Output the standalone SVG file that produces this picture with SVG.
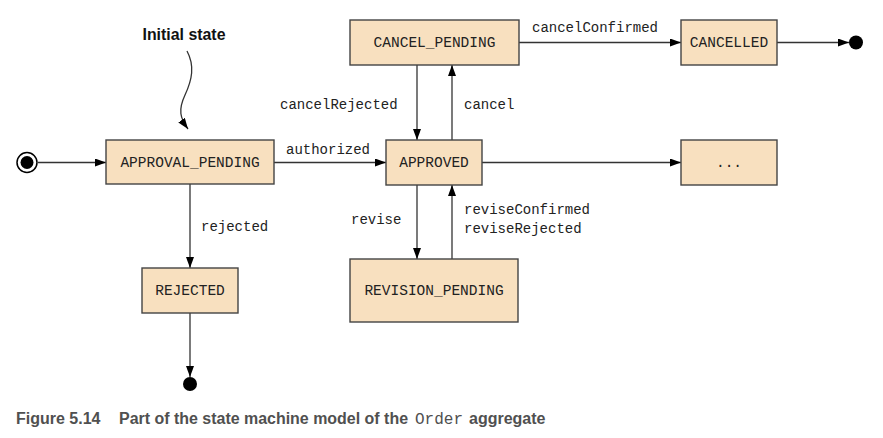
<svg xmlns="http://www.w3.org/2000/svg" width="883" height="438" viewBox="0 0 883 438">
  <defs>
    <style>
      .box { fill: #F8E0BF; stroke: #444; stroke-width: 1.4; }
      .lbl { font-family: "Liberation Mono", "Courier New", monospace; font-size: 14px; fill: #222; }
      .blbl { font-family: "Liberation Mono", "Courier New", monospace; font-size: 14.5px; fill: #222; text-anchor: middle; }
      .conn { stroke: #333; stroke-width: 1.3; fill: none; marker-end: url(#arr); }
      .cap { font-family: "Liberation Sans", Arial, sans-serif; font-weight: bold; font-size: 16px; fill: #505050; }
    </style>
    <marker id="arr" markerUnits="userSpaceOnUse" markerWidth="12" markerHeight="10" refX="11" refY="4" orient="auto">
      <path d="M0,0 L11,4 L0,8 Z" fill="#000"/>
    </marker>
  </defs>
  <rect width="883" height="438" fill="#fff"/>

  <g id="connectors">
    <line class="conn" x1="38" y1="162.5" x2="106" y2="162.5"/>
    <line class="conn" x1="274" y1="162.5" x2="386" y2="162.5"/>
    <line class="conn" x1="482" y1="162.5" x2="681" y2="162.5"/>
    <line class="conn" x1="417" y1="65" x2="417" y2="140"/>
    <line class="conn" x1="452" y1="140" x2="452" y2="65"/>
    <line class="conn" x1="519" y1="42.5" x2="681" y2="42.5"/>
    <line class="conn" x1="777" y1="42.5" x2="849" y2="42.5"/>
    <line class="conn" x1="190" y1="184" x2="190" y2="268"/>
    <line class="conn" x1="190" y1="313" x2="190" y2="377"/>
    <line class="conn" x1="417" y1="185" x2="417" y2="259"/>
    <line class="conn" x1="452" y1="259" x2="452" y2="185"/>
    <path class="conn" d="M187,51 C195,66 192,80 185,95 C178,110 180,118 188,129"/>
    <text class="lbl" x="286" y="154">authorized</text>
    <text class="lbl" x="280" y="109">cancelRejected</text>
    <text class="lbl" x="464" y="109">cancel</text>
    <text class="lbl" x="532" y="32">cancelConfirmed</text>
    <text class="lbl" x="201" y="231">rejected</text>
    <text class="lbl" x="351" y="224">revise</text>
    <text class="lbl" x="464" y="214">reviseConfirmed</text>
    <text class="lbl" x="464" y="233">reviseRejected</text>
  </g>

  <g id="initial">
    <circle cx="27" cy="162.5" r="10" fill="#fff" stroke="#000" stroke-width="1.5"/>
    <circle cx="27" cy="162.5" r="6.5" fill="#000"/>
  </g>
  <g id="initial-note">
    <text x="184" y="40" text-anchor="middle" font-family="'Liberation Sans', Arial, sans-serif" font-weight="bold" font-size="17px" textLength="83" lengthAdjust="spacingAndGlyphs" fill="#111">Initial state</text>
  </g>
  <g id="approval-pending">
    <rect class="box" x="106" y="140" width="168" height="44"/>
    <text class="blbl" x="190" y="167">APPROVAL_PENDING</text>
  </g>
  <g id="approved">
    <rect class="box" x="386" y="140" width="96" height="45"/>
    <text class="blbl" x="434" y="167">APPROVED</text>
  </g>
  <g id="cancel-pending">
    <rect class="box" x="350" y="20" width="169" height="45"/>
    <text class="blbl" x="434.5" y="47">CANCEL_PENDING</text>
  </g>
  <g id="cancelled">
    <rect class="box" x="681" y="20" width="96" height="45"/>
    <text class="blbl" x="729" y="47">CANCELLED</text>
  </g>
  <g id="final-cancelled">
    <circle cx="856" cy="42.5" r="7" fill="#000"/>
  </g>
  <g id="more">
    <rect class="box" x="681" y="140" width="96" height="45"/>
    <text class="blbl" x="729" y="167">...</text>
  </g>
  <g id="rejected">
    <rect class="box" x="142" y="268" width="96" height="45"/>
    <text class="blbl" x="190" y="295">REJECTED</text>
  </g>
  <g id="final-rejected">
    <circle cx="190" cy="384" r="7" fill="#000"/>
  </g>
  <g id="revision-pending">
    <rect class="box" x="350" y="259" width="168" height="63"/>
    <text class="blbl" x="434" y="295">REVISION_PENDING</text>
  </g>

  <g id="caption">
    <text class="cap" x="16" y="424">Figure 5.14</text>
    <text class="cap" x="119" y="424" textLength="289" lengthAdjust="spacingAndGlyphs">Part of the state machine model of the</text>
    <text x="415" y="424" font-family="'Liberation Mono', 'Courier New', monospace" font-size="16px" fill="#505050">Order</text>
    <text class="cap" x="469" y="424">aggregate</text>
  </g>
</svg>
